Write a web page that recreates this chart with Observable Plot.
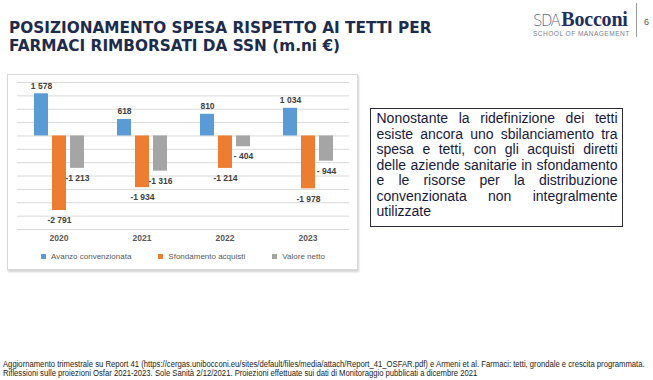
<!DOCTYPE html>
<html>
<head>
<meta charset="utf-8">
<script src="https://cdn.jsdelivr.net/npm/d3@7"></script>
<script src="https://cdn.jsdelivr.net/npm/@observablehq/plot@0.6"></script>
<style>
  html, body { margin: 0; padding: 0; background: #fff; }
  #page { position: relative; width: 653px; height: 380px; overflow: hidden; background: #fff; font-family: "Liberation Sans", Arial, sans-serif; }
  .title { position: absolute; left: 9px; top: 19px; font-family: "DejaVu Sans", Tahoma, sans-serif; font-weight: bold; font-size: 15.3px; line-height: 18px; color: #1d2b4c; white-space: nowrap; }
  .logo1 { position: absolute; left: 533px; top: 9px; white-space: nowrap; line-height: 1; }
  .sda { font-family: "DejaVu Sans", sans-serif; font-weight: 200; font-size: 15px; color: #5a6a8e; letter-spacing: -1.6px; }
  .bocc { font-family: "Liberation Serif", "DejaVu Serif", serif; font-weight: bold; font-size: 20px; color: #1f2f5e; letter-spacing: -0.2px; margin-left: 2px; }
  .logo2 { position: absolute; left: 533px; top: 30px; font-family: "Liberation Sans", sans-serif; font-size: 6.6px; letter-spacing: 0.45px; color: #7a7f8c; white-space: nowrap; }
  .vline { position: absolute; left: 636px; top: 3px; width: 1px; height: 34px; background: #9a9a9a; }
  .pnum { position: absolute; left: 644px; top: 17px; font-family: "Liberation Sans", sans-serif; font-size: 9px; color: #555; }
  #chartbox { position: absolute; left: 7px; top: 74px; width: 349px; height: 194px; border: 1px solid #d9d9d9; box-shadow: 1px 2px 2px rgba(0,0,0,0.18); background: #fff; }
  #chart { position: absolute; left: 7px; top: 74px; }
  #legend { position: absolute; left: 41px; top: 252px; display: flex; align-items: center; font-family: "Liberation Sans", Arial, sans-serif; font-size: 8px; color: #595959; white-space: nowrap; }
  #legend .sw { width: 5px; height: 5px; margin-right: 5px; display: inline-block; }
  #legend .it { display: flex; align-items: center; margin-right: 27px; }
  #note { position: absolute; left: 370px; top: 108px; width: 251px; height: 117px; border: 1px solid #2b2b3b; padding: 0; }
  #note .txt { position: absolute; left: 5.5px; top: 2px; width: 241px; font-family: "Liberation Sans", Arial, sans-serif; font-size: 14px; line-height: 15.5px; color: #17193d; }
  #note .ln { display: block; text-align: justify; text-align-last: justify; white-space: nowrap; }
  #note .ln.last { text-align-last: left; }
  #foot { position: absolute; left: 3px; top: 360px; font-family: "Liberation Sans Narrow", "Liberation Sans", Arial, sans-serif; font-size: 8.5px; line-height: 8.6px; color: #1a1a1a; white-space: nowrap; transform-origin: 0 0; }
</style>
</head>
<body>
<div id="page">
  <div class="title">POSIZIONAMENTO SPESA RISPETTO AI TETTI PER<br>FARMACI RIMBORSATI DA SSN (m.ni €)</div>
  <div class="logo1"><span class="sda">SDA</span><span class="bocc">Bocconi</span></div>
  <div class="logo2">SCHOOL OF MANAGEMENT</div>
  <div class="vline"></div>
  <div class="pnum">6</div>
  <div id="chartbox"></div>
  <div id="chart"></div>
  <div id="legend"></div>
  <div id="note"><div class="txt">
    <span class="ln">Nonostante la ridefinizione dei tetti</span>
    <span class="ln">esiste ancora uno sbilanciamento tra</span>
    <span class="ln">spesa e tetti, con gli acquisti diretti</span>
    <span class="ln">delle aziende sanitarie in sfondamento</span>
    <span class="ln">e le risorse per la distribuzione</span>
    <span class="ln">convenzionata non integralmente</span>
    <span class="ln last">utilizzate</span>
  </div></div>
  <div id="foot">Aggiornamento trimestrale su Report 41 (https://cergas.unibocconi.eu/sites/default/files/media/attach/Report_41_OSFAR.pdf) e Armeni et al. Farmaci: tetti, grondale e crescita programmata.<br>Riflessioni sulle proiezioni Osfar 2021-2023. Sole Sanità 2/12/2021. Proiezioni effettuate sui dati di Monitoraggio pubblicati a dicembre 2021</div>
</div>
<script>
const years = ["2020", "2021", "2022", "2023"];
const series = ["Avanzo convenzionata", "Sfondamento acquisti", "Valore netto"];
const avanzo = [1578, 618, 810, 1034];
const sfondamento = [-2791, -1934, -1214, -1978];
const netto = [-1213, -1316, -404, -944];
const colors = ["#5B9BD5", "#ED7D31", "#A5A5A5"];
const yTicks = [-3500, -3000, -2500, -2000, -1500, -1000, -500, 0, 500, 1000, 1500, 2000];

const valuesBySeries = [avanzo, sfondamento, netto];
const rows = [];
years.forEach((yr, i) => {
  series.forEach((s, j) => rows.push({year: yr, series: s, value: valuesBySeries[j][i]}));
});

function fmt(v) {
  const a = Math.abs(v);
  if (a < 1000) return (v < 0 ? "- " : "") + a;
  const th = Math.floor(a / 1000), rest = String(a % 1000).padStart(3, "0");
  return (v < 0 ? "-" : "") + th + " " + rest;
}

const labelStyle = {fontSize: 8.5, fontWeight: "bold", fill: "#404040"};

const chart = Plot.plot({
  width: 350,
  height: 195,
  marginLeft: 9,
  marginRight: 7,
  marginTop: 8,
  marginBottom: 40,
  style: {fontFamily: "'Liberation Sans', Arial, sans-serif", background: "transparent", overflow: "visible"},
  fx: {domain: years, padding: 0, axis: null, label: null},
  x: {domain: series, paddingInner: 0.25, paddingOuter: 0.85, axis: null},
  y: {domain: [-3500, 2000], axis: null},
  color: {domain: series, range: colors},
  marks: [
    Plot.ruleY(yTicks, {stroke: "#d9d9d9", strokeWidth: 1}),
    Plot.barY(rows, {fx: "year", x: "series", y: "value", fill: "series"}),
    Plot.text(rows.filter(d => d.value >= 0), {fx: "year", x: "series", y: "value", text: d => fmt(d.value), dy: -8, ...labelStyle}),
    Plot.text(rows.filter(d => d.value < 0), {fx: "year", x: "series", y: "value", text: d => fmt(d.value), dy: 10, ...labelStyle}),
    Plot.text(years, {fx: d => d, frameAnchor: "bottom", text: d => d, dy: 11, fontSize: 8.5, fontWeight: "bold", fill: "#595959"})
  ]
});
document.getElementById("chart").appendChild(chart);

const legend = document.getElementById("legend");
series.forEach((s, j) => {
  const it = document.createElement("span");
  it.className = "it";
  const sw = document.createElement("span");
  sw.className = "sw";
  sw.style.background = colors[j];
  it.appendChild(sw);
  it.appendChild(document.createTextNode(s));
  legend.appendChild(it);
});

// fit the footnote to the width it occupies in the reference
const foot = document.getElementById("foot");
const fw = foot.scrollWidth;
if (fw > 642) foot.style.transform = `scaleX(${642 / fw})`;
</script>
</body>
</html>
